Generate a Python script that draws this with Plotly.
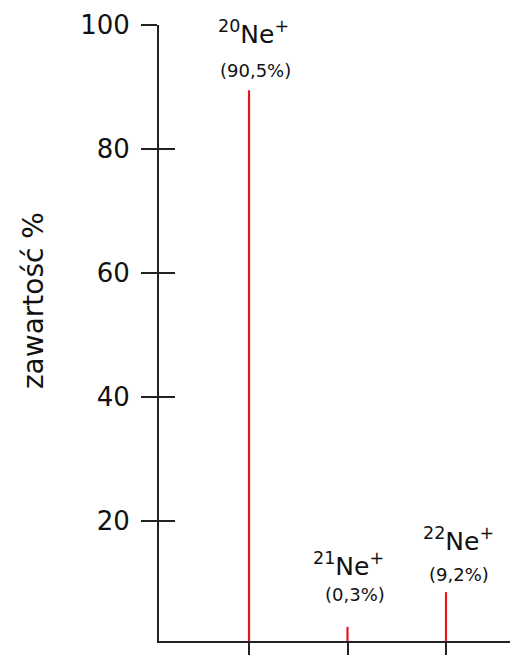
import plotly.graph_objects as go

mass = [20, 21, 22]
height = [89.5, 3.0, 8.6]
iso_labels = ["<sup>20</sup>Ne<sup>+</sup>", "<sup>21</sup>Ne<sup>+</sup>", "<sup>22</sup>Ne<sup>+</sup>"]
pct_labels = ["(90,5%)", "(0,3%)", "(9,2%)"]
y_ticks = [20, 40, 60, 80, 100]

FONT = "DejaVu Sans"

fig = go.Figure()
fig.add_trace(go.Bar(x=mass, y=height, width=0.022, marker=dict(color="#e8141b", line=dict(width=0)),
                     hoverinfo="skip"))
# invisible trace on second y-axis to activate it (for crossing ticks)
fig.add_trace(go.Scatter(x=[mass[0]], y=[height[0]], yaxis="y2", mode="markers",
                         marker=dict(opacity=0), hoverinfo="skip"))

name_shift = [58, 62, 53]
pct_shift = [20, 32, 18]
name_x = [4, 1, 13]
pct_x = [6, 7, 13]
for i in range(3):
    fig.add_annotation(x=mass[i], y=height[i], xref="x", yref="y", text=iso_labels[i],
                       showarrow=False, yshift=name_shift[i], xshift=name_x[i],
                       font=dict(family=FONT, size=25, color="#111"))
    fig.add_annotation(x=mass[i], y=height[i], xref="x", yref="y", text=pct_labels[i],
                       showarrow=False, yshift=pct_shift[i], xshift=pct_x[i],
                       font=dict(family=FONT, size=18, color="#111"))

# y-axis title (page pixel x=33, y=302 -> plot area 159..510 x, 25..643 y)
fig.add_annotation(x=(33 - 159) / 351, y=(643 - 302) / 618, xref="paper", yref="paper",
                   xanchor="center", yanchor="middle",
                   text="zawartość %", showarrow=False, textangle=-90,
                   font=dict(family=FONT, size=28, color="#111"))

rng = [0.72, 100]
fig.update_layout(
    width=510, height=655,
    margin=dict(l=159, r=0, t=25, b=12),
    plot_bgcolor="white", paper_bgcolor="white",
    showlegend=False,
    xaxis=dict(range=[19.086, 22.65], tickvals=mass, ticktext=["", "", ""],
               ticks="outside", ticklen=14, tickwidth=1.5, tickcolor="#222",
               showline=True, linecolor="#222", linewidth=2, showgrid=False, zeroline=False),
    yaxis=dict(range=rng, tickvals=y_ticks, ticks="outside", ticklen=16, tickwidth=2,
               tickcolor="#222", showline=True, linecolor="#222", linewidth=2,
               showgrid=False, zeroline=False, ticklabelstandoff=6,
               tickfont=dict(family=FONT, size=26, color="#111")),
    yaxis2=dict(range=rng, tickvals=y_ticks, overlaying="y", side="left", ticks="inside",
                ticklen=16, tickwidth=2, tickcolor="#222", showticklabels=False,
                showline=False, showgrid=False, zeroline=False),
)

fig.write_html("out.html", config={"displayModeBar": False},
               post_script="document.body.style.margin='0';document.body.style.overflow='hidden';")
